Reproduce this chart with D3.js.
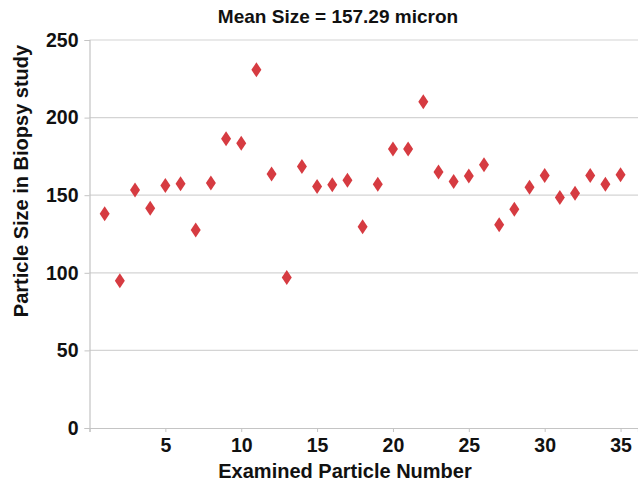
<!DOCTYPE html>
<html lang="en">
<head>
	<meta charset="UTF-8">
	<title>Mean Size</title>
	<script src="https://d3js.org/d3.v7.min.js"></script>
	<style>
		body{
			margin: 0;
			padding: 0;
			background: #fff;
			font-family: 'Liberation Sans', Arial, sans-serif;
		}
		.tickLbl{
			font-size: 19.5px;
			font-weight: bold;
			fill: #111;
		}
		.axisTitle{
			font-size: 20px;
			font-weight: bold;
			fill: #111;
		}
	</style>
</head>
<body>
	<div id="chart"></div>
<script>

// particle number / size
var particleNo = [1,2,3,4,5,6,7,8,9,10,11,12,13,14,15,16,17,18,19,20,21,22,23,24,25,26,27,28,29,30,31,32,33,34,35];
var particleSize = [138,94.8,153.4,141.6,156.2,157.3,127.6,157.8,186.3,183.5,
	230.8,163.7,96.9,168.5,155.6,156.7,159.7,129.6,157.1,179.7,
	179.7,210.2,164.9,158.8,162.3,169.6,130.9,141,155.2,162.7,
	148.5,151.3,162.7,157.1,163.1];
var xTicks = [5,10,15,20,25,30,35];
var yTicks = [0,50,100,150,200,250];
var chartTitle = 'Mean Size = 157.29 micron';

var width = 638,
    height = 486;

var svg = d3.select('#chart')
	.append('svg')
	.attr('width', width)
	.attr('height', height);

var x = d3.scaleLinear()
	.domain([0, 36.15])
	.range([89.5, 638]);

var y = d3.scaleLinear()
	.domain([0, 250])
	.range([428, 40]);

// gridlines
svg.append('g').selectAll('line')
	.data(yTicks.filter(function(d){ return d > 0; }))
	.enter().append('line')
	.attr('x1', x(0))
	.attr('x2', width)
	.attr('y1', function(d){ return y(d); })
	.attr('y2', function(d){ return y(d); })
	.attr('stroke', '#d4d4d4')
	.attr('stroke-width', 1.2);

// y axis
var yAxis = svg.append('g')
	.attr('transform', 'translate(' + x(0) + ',0)')
	.call(d3.axisLeft(y).tickValues(yTicks).tickSize(5).tickPadding(6));

// x axis
var xAxis = svg.append('g')
	.attr('transform', 'translate(0,' + y(0) + ')')
	.call(d3.axisBottom(x).tickValues([0].concat(xTicks)).tickSize(4).tickPadding(6)
		.tickFormat(function(d){ return d === 0 ? '' : d; }));

[yAxis, xAxis].forEach(function(a){
	a.attr('font-family', null).attr('font-size', null);
	a.select('.domain').attr('stroke', '#c4c4c4').attr('stroke-width', 1.2);
	a.selectAll('.tick line').attr('stroke', '#c4c4c4');
	a.selectAll('.tick text').attr('class', 'tickLbl');
});

// diamond markers
var diamond = 'M0,-7.5L5,0L0,7.5L-5,0Z';
svg.append('g').selectAll('path')
	.data(particleNo)
	.enter().append('path')
	.attr('d', diamond)
	.attr('transform', function(d, i){ return 'translate(' + x(d) + ',' + y(particleSize[i]) + ')'; })
	.attr('fill', '#d63b41');

// titles
svg.append('text')
	.attr('x', 338)
	.attr('y', 23)
	.attr('text-anchor', 'middle')
	.attr('class', 'axisTitle')
	.style('font-size', '19px')
	.text(chartTitle);

svg.append('text')
	.attr('x', 345)
	.attr('y', 478)
	.attr('text-anchor', 'middle')
	.attr('class', 'axisTitle')
	.text('Examined Particle Number');

svg.append('text')
	.attr('transform', 'translate(28,181) rotate(-90)')
	.attr('text-anchor', 'middle')
	.attr('class', 'axisTitle')
	.text('Particle Size in Biopsy study');

</script>
</body>
</html>
